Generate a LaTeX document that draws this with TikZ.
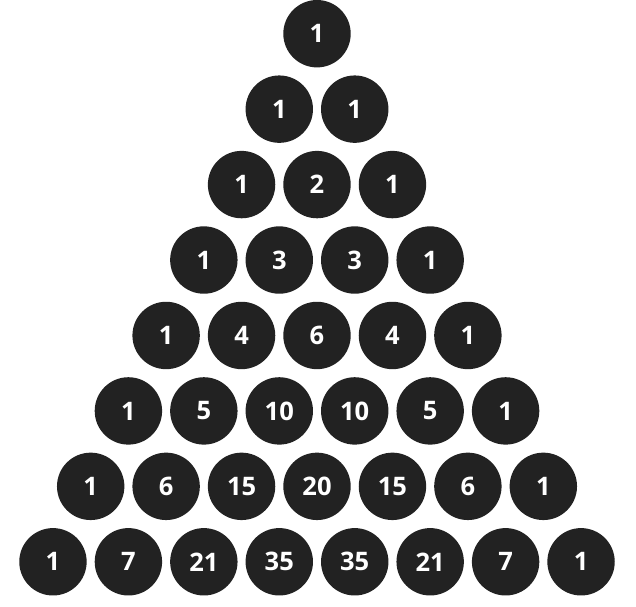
\documentclass[tikz,border=0pt]{standalone}
\usepackage{fontspec}
\setmainfont{Open Sans}
\definecolor{balldark}{HTML}{222222}

\begin{document}
\begin{tikzpicture}[x=1pt, y=-1pt,
    ball/.style={circle, fill=balldark, minimum size=67.4pt, inner sep=0pt,
      text=white, font=\fontsize{25.5}{30}\selectfont\bfseries}]
    % Frame
    \useasboundingbox (0,0) rectangle (636,606);

    % Nodes
    \foreach \vals [count=\n from 0] in {{1},{1,1},{1,2,1},{1,3,3,1},{1,4,6,4,1},
        {1,5,10,10,5,1},{1,6,15,20,15,6,1},{1,7,21,35,35,21,7,1}}
      \foreach \v [count=\k from 0] in \vals
        \node [ball] (r\n c\k) at ({317+(\k-\n/2)*75.44}, {33.7+\n*75.44}) {\v};

\end{tikzpicture}
\end{document}
